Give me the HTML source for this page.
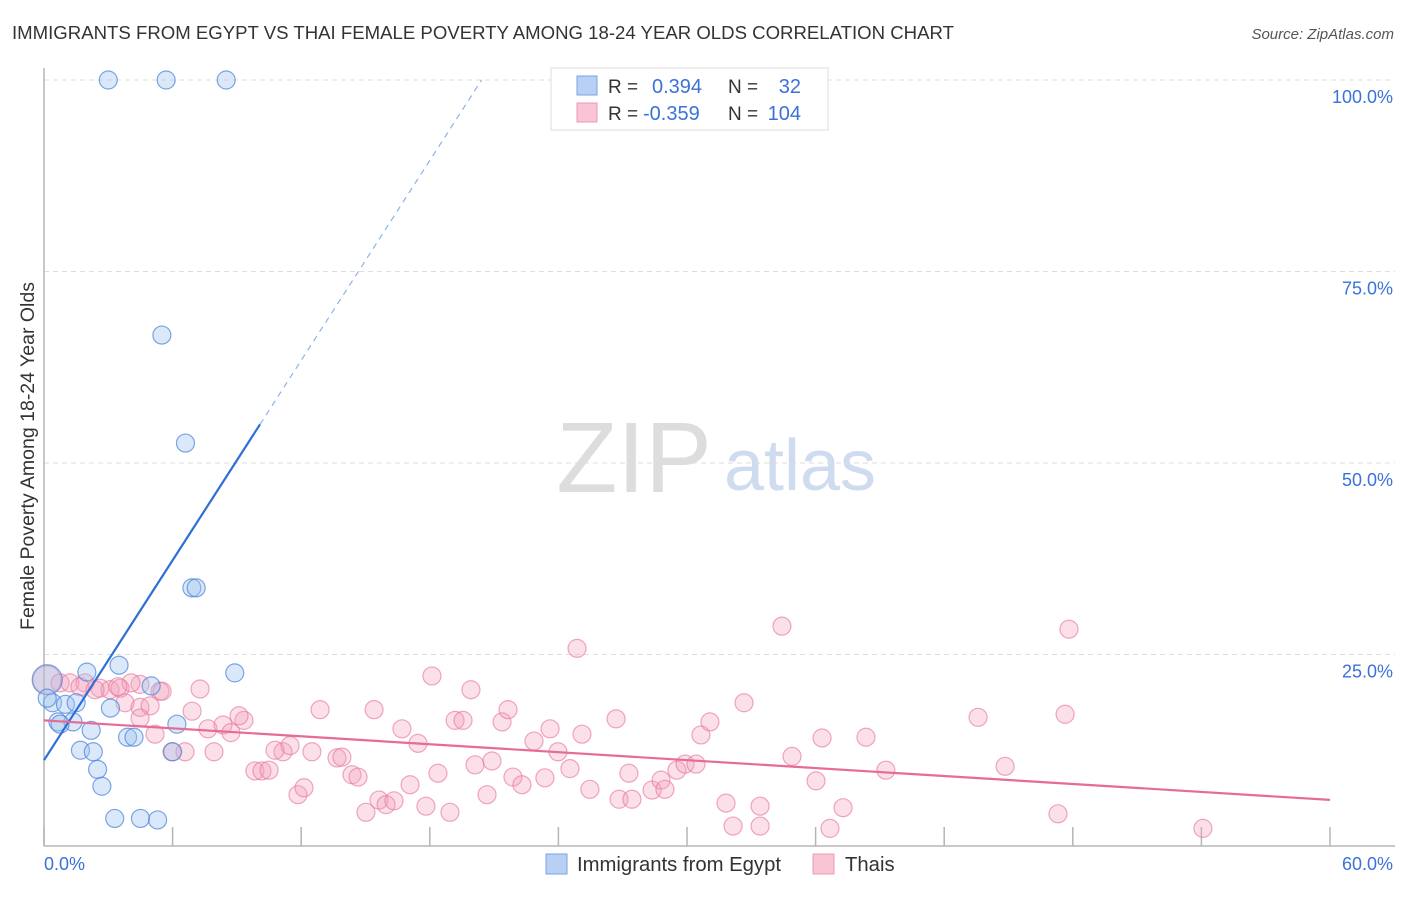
<!DOCTYPE html>
<html><head><meta charset="utf-8"><style>
body{margin:0;background:#fff;font-family:"Liberation Sans",sans-serif;}
svg text{font-family:"Liberation Sans",sans-serif;}
</style></head><body>
<svg width="1406" height="892" viewBox="0 0 1406 892" xmlns="http://www.w3.org/2000/svg">
<text x="12" y="39" font-size="18.6" fill="#333">IMMIGRANTS FROM EGYPT VS THAI FEMALE POVERTY AMONG 18-24 YEAR OLDS CORRELATION CHART</text>
<text x="1394" y="39" font-size="15" fill="#555" font-style="italic" text-anchor="end">Source: ZipAtlas.com</text>
<g>
<text x="634" y="492" font-size="100" fill="#ddd" font-family="Liberation Serif,serif" text-anchor="middle">ZIP</text>
<text x="800" y="490" font-size="72" fill="#cfdcef" text-anchor="middle">atlas</text>
</g>
<g id="grid"></g>
<g id="axes"></g>
<g id="marks"></g>
<text transform="translate(34,456) rotate(-90)" font-size="19.5" fill="#333" text-anchor="middle">Female Poverty Among 18-24 Year Olds</text>
<g>
<rect x="551" y="68" width="277" height="62" fill="#fff" stroke="#ddd"/>
<rect x="577" y="76" width="20" height="19" fill="#b8d0f3" stroke="#7aa3e0"/>
<rect x="577" y="103" width="20" height="19" fill="#f9c4d4" stroke="#ec9ab5"/>
<text x="608" y="93" font-size="19" fill="#333">R =</text>
<text x="652" y="93" font-size="20" fill="#3a72d8">0.394</text>
<text x="728" y="93" font-size="19" fill="#333">N =</text>
<text x="801" y="93" font-size="20" fill="#3a72d8" text-anchor="end">32</text>
<text x="608" y="120" font-size="19" fill="#333">R =</text>
<text x="643" y="120" font-size="20" fill="#3a72d8">-0.359</text>
<text x="728" y="120" font-size="19" fill="#333">N =</text>
<text x="801" y="120" font-size="20" fill="#3a72d8" text-anchor="end">104</text>
</g>
<g>
<rect x="546" y="854" width="21" height="20" fill="#b8d0f3" stroke="#7aa3e0"/>
<text x="577" y="871" font-size="20.3" fill="#333">Immigrants from Egypt</text>
<rect x="813" y="854" width="21" height="20" fill="#f9c4d4" stroke="#ec9ab5"/>
<text x="845" y="871" font-size="20.3" fill="#333">Thais</text>
</g>
</svg>
<script>
const yTicks=[25,50,75,100];
const yTickLabels=["25.0%","50.0%","75.0%","100.0%"];
const xTicks=[0,6,12,18,24,30,36,42,48,54,60];
const xEndLabels=["0.0%","60.0%"];
const egyptX=[3.0,5.7,8.5,5.5,6.6,6.9,7.1,8.9,3.5,2.0,5.0,0.15,0.4,1.0,1.5,3.1,0.65,1.35,2.2,6.2,1.7,2.3,3.9,4.2,6.0,2.5,2.7,3.3,4.5,5.3,0.15,0.75];
const egyptY=[100,100,100,66.7,52.6,33.7,33.7,22.6,23.6,22.7,20.9,21.7,18.7,18.5,18.7,18.0,16.2,16.2,15.1,15.9,12.5,12.3,14.2,14.2,12.3,10.0,7.8,3.6,3.6,3.4,19.3,15.9];
const thaiX=[0.14,0.75,1.21,1.91,2.61,3.08,3.55,1.68,2.38,4.48,4.06,5.41,7.28,3.78,4.48,3.45,4.95,5.51,6.91,4.48,5.18,5.97,6.58,7.93,7.65,8.35,8.72,9.33,9.10,9.84,10.17,10.50,11.15,10.78,11.48,11.85,12.13,12.50,12.88,13.67,13.90,14.37,14.65,15.02,15.40,15.63,15.96,16.33,16.70,17.08,17.45,17.82,18.10,18.38,18.94,19.18,19.55,19.92,20.11,20.67,20.90,21.37,21.65,21.88,22.30,22.86,23.37,23.61,23.98,24.54,24.87,25.10,25.47,26.69,26.83,27.29,27.43,28.37,28.79,28.97,29.53,29.91,30.42,30.65,31.07,31.82,32.15,32.66,33.41,33.41,34.43,34.90,36.02,36.30,36.67,37.28,38.35,39.28,43.58,44.84,47.31,47.64,47.82,54.07];
const thaiY=[21.7,21.3,21.3,21.3,20.6,20.4,20.6,20.8,20.4,21.1,21.3,20.2,20.5,18.7,18.1,20.8,18.3,20.2,17.6,16.7,14.6,12.3,12.3,12.3,15.3,15.8,14.8,16.4,17.0,9.8,9.8,9.9,12.3,12.5,13.1,6.7,7.6,12.3,17.8,11.5,11.6,9.3,9.0,4.4,17.8,6.0,5.4,5.9,15.3,8.0,13.4,5.2,22.2,9.5,4.4,16.4,16.4,20.4,10.6,6.7,11.1,16.2,17.8,9.0,8.0,13.7,8.9,15.3,12.3,10.1,25.8,14.6,7.4,16.6,6.1,9.5,6.1,7.3,8.6,7.4,9.9,10.7,10.7,14.5,16.2,5.6,2.6,18.7,5.2,2.6,28.7,11.7,8.5,14.1,2.3,5.0,14.2,9.9,16.8,10.4,4.2,17.2,28.3,2.3];
const egyptLine=[11.2,4.35]; // intercept, slope
const egyptSolidEnd=10.08;
const thaiLine=[16.4,-0.173];

const NS="http://www.w3.org/2000/svg";
const X=v=>44+v*(1286/60);
const Y=v=>846-v*7.66;
function mk(tag,attrs,parent){const e=document.createElementNS(NS,tag);for(const k in attrs)e.setAttribute(k,attrs[k]);parent.appendChild(e);return e;}
const grid=document.getElementById('grid'),axes=document.getElementById('axes'),marks=document.getElementById('marks');
yTicks.forEach((t,i)=>{
 const l=mk('line',{x1:44,x2:1395,y1:Y(t),y2:Y(t),stroke:'#ddd','stroke-dasharray':'5,4'},grid);
 
 
 const tx=mk('text',{x:1393,y:Y(t)+23,'font-size':18,fill:'#3a72d8','text-anchor':'end'},axes);
 tx.textContent=yTickLabels[i];
 
 
});
const ax=mk('line',{x1:44,x2:44,y1:68,y2:846,stroke:'#b5b5b5','stroke-width':1.5},axes);


const bx=mk('line',{x1:44,x2:1395,y1:846,y2:846,stroke:'#b5b5b5','stroke-width':1.5},axes);


xTicks.forEach(t=>{
 const l=mk('line',{x1:X(t),x2:X(t),y1:827,y2:846,stroke:'#b5b5b5','stroke-width':1.5},axes);
 
 
});
const xl0=mk('text',{x:44,y:870,'font-size':18,fill:'#3a72d8'},axes);xl0.textContent=xEndLabels[0];


const xl1=mk('text',{x:1393,y:870,'font-size':18,fill:'#3a72d8','text-anchor':'end'},axes);xl1.textContent=xEndLabels[1];



thaiX.forEach((x,i)=>{
 const c=mk('circle',{cx:X(x),cy:Y(thaiY[i]),r:i===0?14:9,fill:'rgba(244,160,188,0.32)',stroke:'rgba(232,120,158,0.65)','stroke-width':1.2},marks);
 
 
});
egyptX.forEach((x,i)=>{
 const c=mk('circle',{cx:X(x),cy:Y(egyptY[i]),r:i===11?15:9,fill:'rgba(160,195,240,0.38)',stroke:'rgba(70,130,215,0.7)','stroke-width':1.2},marks);
 
 
});
const f=(p,x)=>p[0]+p[1]*x;
const xEnd=(100-egyptLine[0])/egyptLine[1];
const bl=mk('line',{x1:X(0),y1:Y(f(egyptLine,0)),x2:X(egyptSolidEnd),y2:Y(f(egyptLine,egyptSolidEnd)),stroke:'#2e6fd6','stroke-width':2.2},marks);


const bd=mk('line',{x1:X(egyptSolidEnd),y1:Y(f(egyptLine,egyptSolidEnd)),x2:X(xEnd),y2:Y(100),stroke:'#8fb2e8','stroke-width':1.2,'stroke-dasharray':'6,5'},marks);


const pl=mk('line',{x1:X(0),y1:Y(f(thaiLine,0)),x2:X(60),y2:Y(f(thaiLine,60)),stroke:'#e66b96','stroke-width':2.2},marks);


</script>
</body></html>
